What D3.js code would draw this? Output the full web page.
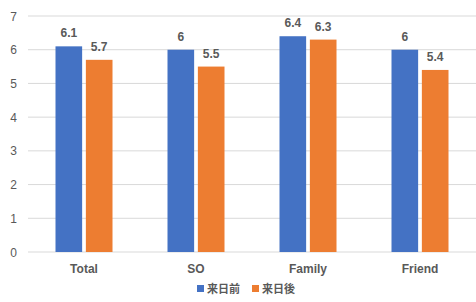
<!DOCTYPE html>
<html><head><meta charset="utf-8">
<script src="https://cdn.jsdelivr.net/npm/d3@7"></script>
<style>body{margin:0;background:#fff}svg text{font-family:"Liberation Sans",Arial,sans-serif;font-weight:bold;fill:#595959}</style>
</head><body><svg id="c" width="476" height="302"></svg>
<script>
const categories = ["Total","SO","Family","Friend"];
const seriesNames = ["来日前","来日後"];
const before = [6.1,6,6.4,6];
const after = [5.7,5.5,6.3,5.4];
const yTicks = [0,1,2,3,4,5,6,7];
const colors = ["#4472C4","#ED7D31"];

const svg = d3.select("#c");
const m = {l:28, r:0, t:16, b:50};
const W = 476, H = 302;
const x = d3.scaleBand().domain(categories).range([m.l, W-m.r]);
const y = d3.scaleLinear().domain([0,7]).range([H-m.b, m.t]);
const x1 = d3.scaleBand().domain(seriesNames).range([0, 57]).paddingInner(7/57);

svg.append("g").selectAll("line").data(yTicks).join("line")
  .attr("x1", m.l).attr("x2", W-m.r)
  .attr("y1", d=>y(d)).attr("y2", d=>y(d))
  .attr("stroke", "#d9d9d9").attr("stroke-width", 1);
svg.append("g").selectAll("text").data(yTicks).join("text")
  .attr("x", 17).attr("y", d=>y(d)+4.5).attr("text-anchor","end")
  .attr("font-size", 12).style("font-weight","normal").text(d=>d);

const data = categories.map((c,i)=>({c, vals:[before[i], after[i]]}));
const g = svg.append("g").selectAll("g").data(data).join("g")
  .attr("transform", d=>`translate(${x(d.c)+(x.bandwidth()-57)/2},0)`);
g.selectAll("rect").data(d=>d.vals.map((v,j)=>({v,s:seriesNames[j],j}))).join("rect")
  .attr("x", d=>x1(d.s)).attr("width", x1.bandwidth())
  .attr("y", d=>y(d.v)).attr("height", d=>y(0)-y(d.v))
  .attr("fill", d=>colors[d.j]);
g.selectAll("text").data(d=>d.vals.map((v,j)=>({v,s:seriesNames[j],j}))).join("text")
  .attr("x", d=>x1(d.s)+x1.bandwidth()/2).attr("y", d=>y(d.v)-9)
  .attr("text-anchor","middle").attr("font-size", 12).text(d=>d.v);

svg.append("g").selectAll("text").data(categories).join("text")
  .attr("x", d=>x(d)+x.bandwidth()/2).attr("y", 273)
  .attr("text-anchor","middle").attr("font-size", 12).text(d=>d);

const leg = svg.append("g");
const lx = [197, 252];
seriesNames.forEach((s,i)=>{
  leg.append("rect").attr("x", lx[i]).attr("y", 285).attr("width",7).attr("height",7).attr("fill",colors[i]);
  leg.append("text").attr("x", lx[i]+10).attr("y", 293).attr("font-size", 11)
    .style("font-family",'"Noto Sans CJK JP",sans-serif').text(s);
});
</script></body></html>
